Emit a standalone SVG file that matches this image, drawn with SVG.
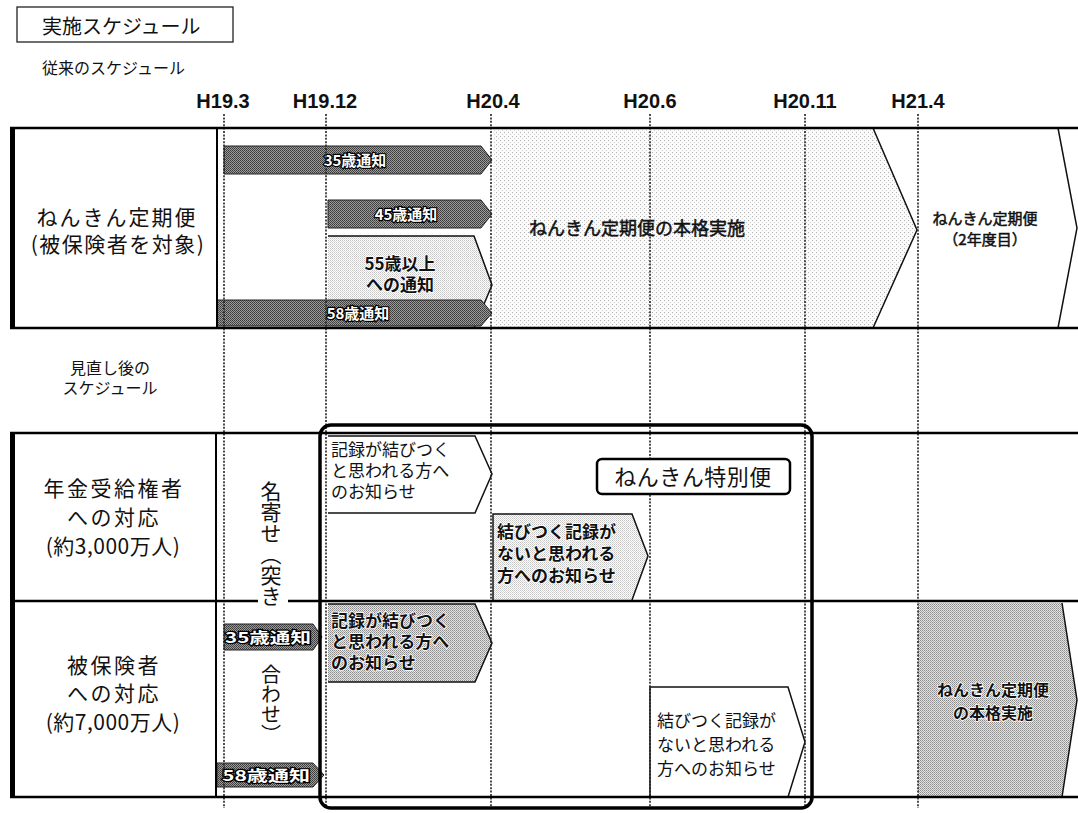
<svg xmlns="http://www.w3.org/2000/svg" width="1078" height="813" viewBox="0 0 1078 813">
<defs>
<pattern id="pLight" width="4" height="4" patternUnits="userSpaceOnUse"><rect width="4" height="4" fill="#fbfbfb"/><rect x="0" y="0" width="1" height="1" fill="#b0b0b0"/><rect x="2" y="2" width="1" height="1" fill="#d0d0d0"/></pattern>
<pattern id="pMed" width="2" height="2" patternUnits="userSpaceOnUse"><rect width="2" height="2" fill="#fff"/><rect width="1" height="1" fill="#c4c4c4"/><rect x="1" y="1" width="1" height="1" fill="#d8d8d8"/></pattern>
<pattern id="pGrey" width="2" height="2" patternUnits="userSpaceOnUse"><rect width="2" height="2" fill="#e4e4e4"/><rect width="1" height="1" fill="#8a8a8a"/><rect x="1" y="1" width="1" height="1" fill="#a8a8a8"/></pattern>
<pattern id="pDark" width="2" height="2" patternUnits="userSpaceOnUse"><rect width="2" height="2" fill="#9a9a9a"/><rect width="1" height="1" fill="#3a3a3a"/><rect x="1" y="1" width="1" height="1" fill="#4a4a4a"/></pattern>
</defs>
<style>
text{font-family:"Liberation Sans","Noto Sans CJK JP",sans-serif;fill:#111}
.jp{font-family:"Noto Sans CJK JP",sans-serif}
.date{font-size:20px;font-weight:bold;text-anchor:middle}
.lbl{font-size:21px;text-anchor:middle;letter-spacing:2px}
.hline{stroke:#000;stroke-width:2.5}
.grid{stroke:#222;stroke-width:1.6;stroke-dasharray:2 1.4;fill:none}
.dk{fill:url(#pDark);stroke:#222;stroke-width:1}
.dkt{font-size:15px;font-weight:bold;fill:#fff;stroke:#000;stroke-width:2.4;paint-order:stroke;text-anchor:middle}
.edge{fill:none;stroke:#111;stroke-width:1.5}
.sm{font-size:17px}
.smb{font-size:17px;font-weight:bold;fill:#111;stroke:#fff;stroke-width:1.5;paint-order:stroke}
.med{font-weight:normal;stroke:#111;stroke-width:0.5}
.vt{writing-mode:vertical-rl;font-size:21px}
</style>
<rect width="1078" height="813" fill="#fff"/>

<g id="title">
<rect x="17" y="7" width="216" height="35" fill="#fff" stroke="#222" stroke-width="1.3"/>
<text x="42" y="34" class="jp" style="font-size:20px">実施スケジュール</text>
</g>
<text id="old-heading" x="42" y="74" class="jp" style="font-size:16px">従来のスケジュール</text>

<g id="dates">
<text x="223" y="108" class="date">H19.3</text>
<text x="325" y="108" class="date">H19.12</text>
<text x="493" y="108" class="date">H20.4</text>
<text x="650" y="108" class="date">H20.6</text>
<text x="805" y="108" class="date">H20.11</text>
<text x="918" y="108" class="date">H21.4</text>
</g>

<!-- row 1 -->
<g id="row1-bg">
<polygon points="493,128 873,128 917,230 873,328 493,328" fill="url(#pLight)"/>
<path d="M873,128 L917,230 L873,328" class="edge"/>
<path d="M1058,128 L1077,228 L1058,328" class="edge"/>
</g>
<g id="n-55">
<polygon points="328,236 474,236 492,285 474,328 328,328" fill="url(#pMed)"/>
<path d="M328,236 H474 L492,285 L474,328" class="edge" stroke-width="1.2"/>
<text x="400" y="270" class="smb jp" text-anchor="middle">55歳以上</text>
<text x="400" y="291" class="smb jp" text-anchor="middle">への通知</text>
</g>
<g id="n-35a"><polygon points="224,146 481,146 492,160 481,174 224,174" class="dk"/><text x="355" y="166" class="dkt jp">35歳通知</text></g>
<g id="n-45"><polygon points="328,200 481,200 492,214 481,228 328,228" class="dk"/><text x="406" y="220" class="dkt jp">45歳通知</text></g>
<g id="n-58a"><polygon points="217,300 481,300 492,313 481,326 217,326" class="dk"/><text x="358" y="319" class="dkt jp">58歳通知</text></g>
<g id="n-main1"><text x="637" y="235" class="jp med" style="font-size:18px;text-anchor:middle">ねんきん定期便の本格実施</text></g>
<g id="n-2nd"><text x="985" y="224" class="jp med" style="font-size:15px;text-anchor:middle">ねんきん定期便</text><text x="985" y="245" class="jp med" style="font-size:15px;text-anchor:middle">（2年度目）</text></g>
<g id="row1-label">
<text x="117" y="225" class="lbl jp">ねんきん定期便</text>
<text x="118" y="252" class="lbl jp" style="letter-spacing:1.5px">(被保険者を対象)</text>
</g>

<g id="new-heading">
<text x="110" y="374" class="jp" style="font-size:16px;text-anchor:middle">見直し後の</text>
<text x="110" y="394" class="jp" style="font-size:16px;text-anchor:middle">スケジュール</text>
</g>

<!-- row 2/3 shapes -->
<g id="n-r2a">
<polygon points="328,436 475,436 492,474 475,513 328,513" fill="#fff"/>
<path d="M328,436 H475 L492,474 L475,513 H328" class="edge" stroke-width="1.2"/>
<text x="331" y="456" class="sm jp">記録が結びつく</text>
<text x="331" y="477" class="sm jp">と思われる方へ</text>
<text x="331" y="498" class="sm jp">のお知らせ</text>
</g>
<g id="n-r2b">
<polygon points="493,514 632,514 648,556 632,600 493,600" fill="url(#pMed)"/>
<path d="M493,600 V514 H632 L648,556 L632,600" class="edge" stroke-width="1.2"/>
<text x="497" y="538" class="smb jp">結びつく記録が</text>
<text x="497" y="560" class="smb jp">ないと思われる</text>
<text x="497" y="582" class="smb jp">方へのお知らせ</text>
</g>
<g id="n-r3a">
<polygon points="328,604 475,604 492,643 475,682 328,682" fill="url(#pGrey)"/>
<path d="M328,604 H475 L492,643 L475,682 H328" class="edge" stroke-width="1.2"/>
<text x="331" y="627" class="smb jp">記録が結びつく</text>
<text x="331" y="648" class="smb jp">と思われる方へ</text>
<text x="331" y="669" class="smb jp">のお知らせ</text>
</g>
<g id="n-r3b">
<polygon points="650,687 788,687 805,742 788,797 650,797" fill="#fff"/>
<path d="M650,797 V687 H788 L805,742 L788,797" class="edge" stroke-width="1.2"/>
<text x="657" y="727" class="sm jp">結びつく記録が</text>
<text x="657" y="751" class="sm jp">ないと思われる</text>
<text x="657" y="775" class="sm jp">方へのお知らせ</text>
</g>
<g id="n-r3c">
<polygon points="918,603 1062,603 1077,700 1062,797 918,797" fill="url(#pGrey)"/>
<path d="M1062,603 L1077,700 L1062,797" class="edge"/>
<text x="993" y="696" class="jp" style="font-size:16px;font-weight:bold;text-anchor:middle;stroke:#fff;stroke-width:1.5;paint-order:stroke">ねんきん定期便</text>
<text x="993" y="719" class="jp" style="font-size:16px;font-weight:bold;text-anchor:middle;stroke:#fff;stroke-width:1.5;paint-order:stroke">の本格実施</text>
</g>
<g id="n-35b"><polygon points="224,624 313,624 322,637 313,650 224,650" class="dk"/><text x="268" y="643" class="dkt jp" textLength="86" lengthAdjust="spacingAndGlyphs" style="font-size:15px">35歳通知</text></g>
<g id="n-58b"><polygon points="217,763 313,763 324,775 313,787 217,787" class="dk"/><text x="266" y="781" class="dkt jp" textLength="88" lengthAdjust="spacingAndGlyphs" style="font-size:15px">58歳通知</text></g>

<!-- grid / connectors -->
<g id="connectors">
<line x1="224" y1="114" x2="224" y2="808" class="grid"/>
<line x1="326" y1="114" x2="326" y2="808" class="grid"/>
<line x1="491" y1="114" x2="491" y2="808" class="grid"/>
<line x1="650" y1="114" x2="650" y2="808" class="grid"/>
<line x1="805" y1="114" x2="805" y2="808" class="grid"/>
<line x1="918" y1="114" x2="918" y2="808" class="grid"/>
<line x1="10" y1="128" x2="1078" y2="128" class="hline"/>
<line x1="10" y1="328" x2="1078" y2="328" class="hline"/>
<line x1="10" y1="433" x2="1078" y2="433" class="hline"/>
<line x1="10" y1="601" x2="1078" y2="601" class="hline"/>
<line x1="10" y1="797" x2="1078" y2="797" class="hline"/>
<rect x="10" y="128" width="5" height="200" fill="#000"/>
<rect x="10" y="433" width="5" height="364" fill="#000"/>
<line x1="217" y1="128" x2="217" y2="328" stroke="#000" stroke-width="2"/>
<line x1="216" y1="433" x2="216" y2="797" stroke="#000" stroke-width="2"/>
</g>

<g id="row2-label">
<text x="114" y="496" class="lbl jp" style="letter-spacing:2.5px">年金受給権者</text>
<text x="114" y="525" class="lbl jp" style="letter-spacing:2.5px">への対応</text>
<text x="113" y="554" class="lbl jp" style="letter-spacing:0.5px">(約3,000万人)</text>
</g>
<g id="row3-label">
<text x="114" y="673" class="lbl jp" style="letter-spacing:2.5px">被保険者</text>
<text x="114" y="701" class="lbl jp" style="letter-spacing:2.5px">への対応</text>
<text x="113" y="730" class="lbl jp" style="letter-spacing:0.5px">(約7,000万人)</text>
</g>

<g id="nayose">
<rect x="258" y="590" width="30" height="20" fill="#fff"/>
<text x="271" y="481" class="vt jp">名寄せ（突き</text>
<text x="271" y="664" class="vt jp" style="font-size:20px">合わせ）</text>
</g>

<g id="tokubetsu">
<rect x="320" y="425" width="492" height="383" rx="11" fill="none" stroke="#000" stroke-width="3.5"/>
<rect x="597" y="459" width="193" height="35" rx="5" fill="#fff" stroke="#000" stroke-width="2.5"/>
<text x="693" y="485" class="jp" style="font-size:22px;text-anchor:middle;letter-spacing:0.5px">ねんきん特別便</text>
</g>
</svg>
